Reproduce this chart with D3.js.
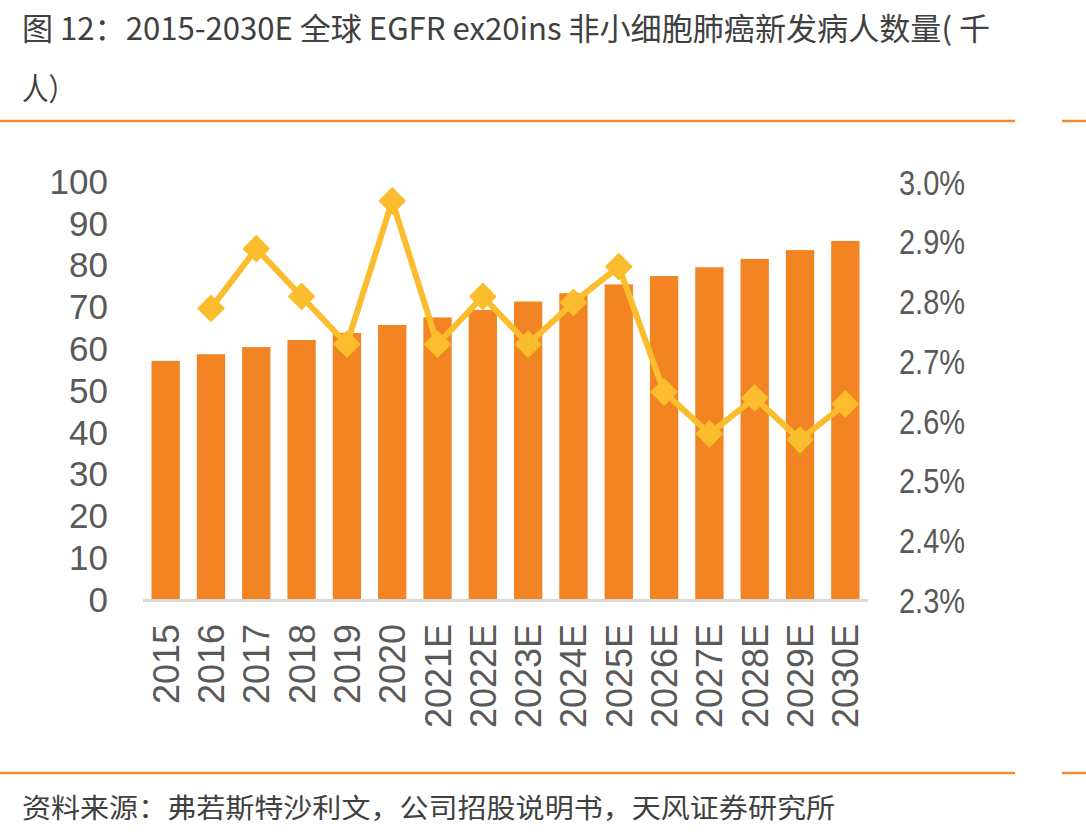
<!DOCTYPE html>
<html><head><meta charset="utf-8">
<script src="https://cdn.jsdelivr.net/npm/d3@7"></script>
<style>body{margin:0;background:#fff}svg{display:block}</style>
</head><body>
<svg id="c" width="1086" height="837"></svg>
<script>
const categories = ["2015","2016","2017","2018","2019","2020","2021E","2022E","2023E","2024E","2025E","2026E","2027E","2028E","2029E","2030E"];
const patients = [57.2,58.8,60.5,62.2,63.9,65.8,67.6,69.4,71.4,73.4,75.5,77.5,79.6,81.6,83.7,85.9];
const ratio = [null,2.79,2.89,2.81,2.73,2.97,2.73,2.81,2.73,2.80,2.86,2.65,2.58,2.64,2.57,2.63];
const leftTicks = [0,10,20,30,40,50,60,70,80,90,100];
const rightTicks = [2.3,2.4,2.5,2.6,2.7,2.8,2.9,3.0];
const titleLine1 = "图 12：2015-2030E 全球 EGFR ex20ins 非小细胞肺癌新发病人数量( 千";
const titleLine2 = "人）";
const source = "资料来源：弗若斯特沙利文，公司招股说明书，天风证券研究所";

const svg = d3.select("#c");
const cjk = "'Noto Sans CJK SC','Noto Sans',sans-serif";
const num = "'Liberation Sans',Arial,sans-serif";

svg.append("text").attr("x",22).attr("y",40).attr("font-family",cjk).attr("font-size",31)
  .attr("fill","#404040").attr("textLength",968).attr("lengthAdjust","spacingAndGlyphs").text(titleLine1);
svg.append("text").attr("x",22).attr("y",100).attr("font-family",cjk).attr("font-size",31)
  .attr("fill","#404040").attr("textLength",53).attr("lengthAdjust","spacingAndGlyphs").text(titleLine2);

const orange = "#F08A2C";
[[121],[773]].forEach(([y])=>{
  svg.append("line").attr("x1",0).attr("x2",1015).attr("y1",y).attr("y2",y).attr("stroke",orange).attr("stroke-width",2.5);
  svg.append("line").attr("x1",1062).attr("x2",1086).attr("y1",y).attr("y2",y).attr("stroke",orange).attr("stroke-width",2.5);
});
svg.append("text").attr("x",22).attr("y",818).attr("font-family",cjk).attr("font-size",27)
  .attr("fill","#404040").attr("textLength",813).attr("lengthAdjust","spacingAndGlyphs").text(source);

const x = d3.scaleBand().domain(categories).range([143,868]).paddingInner(0.375).paddingOuter(0.1875);
const yL = d3.scaleLinear().domain([0,100]).range([600,182]);
const yR = d3.scaleLinear().domain([2.3,3.0]).range([601,183]);

svg.append("g").selectAll("rect").data(patients).join("rect")
  .attr("x",(d,i)=>x(categories[i])).attr("width",x.bandwidth())
  .attr("y",d=>yL(d)).attr("height",d=>yL(0)-yL(d)).attr("fill","#F38423");

svg.append("line").attr("x1",143).attr("x2",868).attr("y1",600.5).attr("y2",600.5)
  .attr("stroke","#D9D9D9").attr("stroke-width",3);

const gl = svg.append("g").attr("transform","translate(118,0)")
  .call(d3.axisLeft(yL).tickValues(leftTicks).tickSize(0).tickPadding(10));
gl.select(".domain").remove();
gl.selectAll("text").attr("font-family",num).attr("font-size",35).attr("fill","#595959");

const gr = svg.append("g").attr("transform","translate(889,0)")
  .call(d3.axisRight(yR).tickValues(rightTicks).tickSize(0).tickPadding(10).tickFormat(d=>d.toFixed(1)+"%"));
gr.select(".domain").remove();
gr.selectAll("text").attr("font-family",num).attr("font-size",35).attr("fill","#595959")
  .attr("textLength",66).attr("lengthAdjust","spacingAndGlyphs");

svg.append("g").selectAll("text").data(categories).join("text")
  .attr("transform",d=>`translate(${x(d)+x.bandwidth()/2},624) rotate(-90)`)
  .attr("text-anchor","end").attr("dy","0.36em")
  .attr("font-family",num).attr("font-size",36).attr("fill","#595959").text(d=>d);

const pts = ratio.map((v,i)=>({c:categories[i],v})).filter(d=>d.v!=null);
const line = d3.line().x(d=>x(d.c)+x.bandwidth()/2).y(d=>yR(d.v));
const yellow = "#FBBC2D";
svg.append("path").datum(pts).attr("d",line).attr("fill","none").attr("stroke",yellow)
  .attr("stroke-width",6).attr("stroke-linejoin","round");
svg.append("g").selectAll("path").data(pts).join("path")
  .attr("d",d3.symbol(d3.symbolSquare,330)())
  .attr("transform",d=>`translate(${x(d.c)+x.bandwidth()/2},${yR(d.v)}) rotate(45)`)
  .attr("fill",yellow).attr("stroke",yellow).attr("stroke-width",1.5).attr("stroke-linejoin","round");
</script>
</body></html>
